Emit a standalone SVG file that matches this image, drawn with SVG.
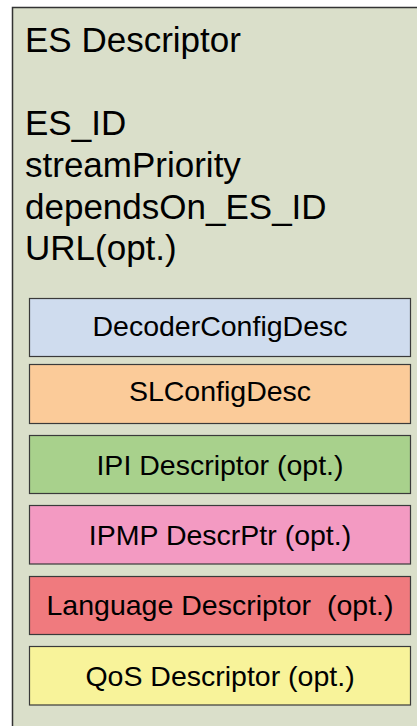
<svg xmlns="http://www.w3.org/2000/svg" width="417" height="726" viewBox="0 0 417 726">
<style>
.t{font-family:"Liberation Sans",Arial,sans-serif;fill:#000}
.big{font-size:35px}
.lab{font-size:28.5px;text-anchor:middle;white-space:pre}
.box{stroke:#3a3a3a;stroke-width:1.2}
</style>
<rect width="417" height="726" fill="#fff"/>
<g id="es-descriptor">
<rect x="12.5" y="7.5" width="420" height="740" fill="#dadfca" stroke="#333" stroke-width="1.5"/>
<text class="t big" x="25" y="52">ES Descriptor</text>
<text class="t big" x="25" y="135">ES_ID</text>
<text class="t big" x="25" y="177">streamPriority</text>
<text class="t big" x="25" y="219">dependsOn_ES_ID</text>
<text class="t big" x="25" y="260">URL(opt.)</text>
</g>
<g id="decoder-config">
<rect class="box" x="29.5" y="298.5" width="381" height="58" fill="#cfdcee"/>
<text class="t lab" x="220" y="336">DecoderConfigDesc</text>
</g>
<g id="sl-config">
<rect class="box" x="29.5" y="364.5" width="381" height="59" fill="#fbcb99"/>
<text class="t lab" x="220" y="401">SLConfigDesc</text>
</g>
<g id="ipi-descriptor">
<rect class="box" x="29.5" y="435.5" width="381" height="58" fill="#a8d18c"/>
<text class="t lab" x="220" y="475">IPI Descriptor (opt.)</text>
</g>
<g id="ipmp-descrptr">
<rect class="box" x="29.5" y="505.5" width="381" height="58.5" fill="#f39ac2"/>
<text class="t lab" x="220" y="545">IPMP DescrPtr (opt.)</text>
</g>
<g id="language-descriptor">
<rect class="box" x="29.5" y="576.5" width="381" height="58" fill="#f07a7e"/>
<text class="t lab" x="220" y="615">Language Descriptor  (opt.)</text>
</g>
<g id="qos-descriptor">
<rect class="box" x="29.5" y="646.5" width="381" height="58.5" fill="#f8f39a"/>
<text class="t lab" x="220" y="686">QoS Descriptor (opt.)</text>
</g>
<g id="connectors"/>
</svg>
